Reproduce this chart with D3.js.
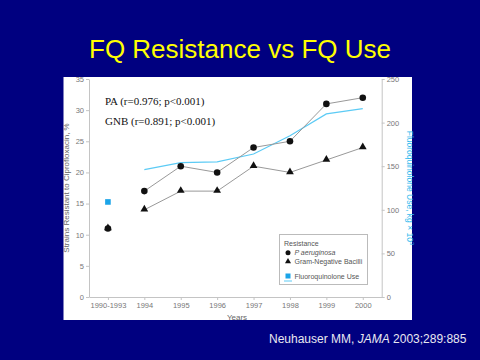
<!DOCTYPE html>
<html><head><meta charset="utf-8">
<script src="https://cdn.jsdelivr.net/npm/d3@7"></script>
<style>
html,body{margin:0;padding:0;background:#000080;}
svg{display:block;}
</style></head>
<body>
<script>
const categories = ["1990-1993","1994","1995","1996","1997","1998","1999","2000"];
const paValues  = [11,17,21,20,24,25,31,32];
const gnbValues = [11,14,17,17,21,20,22,24];
const fqUse     = [109,146,154,155,164,185,210,216];
const leftTicks  = [0,5,10,15,20,25,30,35];
const rightTicks = [0,50,100,150,200,250];

const W=480,H=360;
const svg=d3.select("body").append("svg").attr("width",W).attr("height",H);
svg.append("rect").attr("width",W).attr("height",H).attr("fill","#000080");

svg.append("text").attr("x",240).attr("y",58).attr("text-anchor","middle")
  .attr("font-family","Liberation Sans, Arial, sans-serif").attr("font-size",26)
  .attr("fill","#FFFF00").text("FQ Resistance vs FQ Use");

svg.append("rect").attr("x",63.5).attr("y",77).attr("width",348.5).attr("height",243).attr("fill","#ffffff");

const x=d3.scalePoint().domain(categories).range([89,381.7]).padding(0.52);
const yL=d3.scaleLinear().domain([0,35]).range([297,79]);
const yR=d3.scaleLinear().domain([0,250]).range([297,79]);

const font="Liberation Sans, Arial, sans-serif";
function styleAxis(g){
  g.selectAll("path.domain").attr("stroke","#c4c4c4").attr("stroke-width",1);
  g.selectAll(".tick line").attr("stroke","#c4c4c4");
  g.selectAll("text").attr("fill","#777").attr("font-family",font).attr("font-size",7.5);
}
svg.append("g").attr("transform","translate(0,297)")
  .call(d3.axisBottom(x).tickSize(3).tickPadding(3).tickSizeOuter(0)).call(styleAxis);
svg.append("g").attr("transform","translate(89,0)")
  .call(d3.axisLeft(yL).tickValues(leftTicks).tickSize(3).tickPadding(2).tickSizeOuter(0)).call(styleAxis);
svg.append("g").attr("transform","translate(381.7,0)")
  .call(d3.axisRight(yR).tickValues(rightTicks).tickSize(3).tickPadding(2).tickSizeOuter(0)).call(styleAxis);

svg.append("text").attr("transform","translate(69,188) rotate(-90)").attr("text-anchor","middle")
  .attr("font-family",font).attr("font-size",8).attr("fill","#666")
  .text("Strains Resistant to Ciprofloxacin, %");
const rt=svg.append("text").attr("transform","translate(406.5,188) rotate(90)").attr("text-anchor","middle")
  .attr("font-family",font).attr("font-size",8.5).attr("fill","#33BBEE");
rt.append("tspan").text("Fluoroquinolone Use, kg × 10");
rt.append("tspan").attr("dy",-3).attr("font-size",6).text("3");
svg.append("text").attr("x",237).attr("y",320).attr("text-anchor","middle")
  .attr("font-family",font).attr("font-size",8).attr("fill","#666").text("Years");

// FQ use line (from 1994)
const idx=d3.range(1,categories.length);
const line=d3.line().x(i=>x(categories[i]));
svg.append("path").attr("d",line.y(i=>yR(fqUse[i]))(idx)).attr("fill","none").attr("stroke","#5CCBF5").attr("stroke-width",1.2);
svg.append("rect").attr("x",x(categories[0])-2.8).attr("y",yR(fqUse[0])-2.8).attr("width",5.6).attr("height",5.6).attr("fill","#1BA4E8");

// resistance lines
svg.append("path").attr("d",d3.line().x(i=>x(categories[i])).y(i=>yL(paValues[i]))(idx)).attr("fill","none").attr("stroke","#999").attr("stroke-width",1);
svg.append("path").attr("d",d3.line().x(i=>x(categories[i])).y(i=>yL(gnbValues[i]))(idx)).attr("fill","none").attr("stroke","#999").attr("stroke-width",1);

const tri=d3.symbol().type(d3.symbolTriangle).size(26);
svg.selectAll("path.gnb").data(gnbValues).enter().append("path").attr("class","gnb")
  .attr("d",tri).attr("transform",(d,i)=>`translate(${x(categories[i])},${yL(d)-0.5})`).attr("fill","#111");
svg.selectAll("circle.pa").data(paValues).enter().append("circle").attr("class","pa")
  .attr("cx",(d,i)=>x(categories[i])).attr("cy",d=>yL(d)).attr("r",3.3).attr("fill","#111");

// annotations
const serif="Liberation Serif, Times New Roman, serif";
svg.append("text").attr("x",105).attr("y",105).attr("font-family",serif).attr("font-size",11).attr("fill","#111").text("PA (r=0.976; p<0.001)");
svg.append("text").attr("x",105).attr("y",125).attr("font-family",serif).attr("font-size",11).attr("fill","#111").text("GNB (r=0.891; p<0.001)");

// legend
const lg=svg.append("g");
lg.append("rect").attr("x",279.5).attr("y",234.5).attr("width",88).attr("height",50).attr("fill","#fff").attr("stroke","#bbb");
const lf={"font-family":font,"font-size":7,"fill":"#555"};
function lt(xp,yp,t,it){const e=lg.append("text").attr("x",xp).attr("y",yp).text(t);for(const k in lf)e.attr(k,lf[k]);if(it)e.attr("font-style","italic");return e;}
lt(284,245.5,"Resistance");
lg.append("circle").attr("cx",288).attr("cy",252.7).attr("r",2.5).attr("fill","#111");
lt(294.5,255.2,"P aeruginosa",true);
lg.append("path").attr("d",d3.symbol().type(d3.symbolTriangle).size(16)).attr("transform","translate(288,261.5)").attr("fill","#111");
lt(294.5,264.2,"Gram-Negative Bacilli");
lg.append("rect").attr("x",285.5).attr("y",273.5).attr("width",5).attr("height",5).attr("fill","#1BA4E8");
lg.append("line").attr("x1",284).attr("x2",292).attr("y1",281).attr("y2",281).attr("stroke","#5CCBF5").attr("stroke-width",1);
lt(294.5,278.7,"Fluoroquinolone Use");

// citation
const ct=svg.append("text").attr("x",269).attr("y",343).attr("font-family",font).attr("font-size",12).attr("fill","#E8E8F0");
ct.append("tspan").text("Neuhauser MM, ");
ct.append("tspan").attr("font-style","italic").text("JAMA");
ct.append("tspan").text(" 2003;289:885");
</script>
</body></html>
